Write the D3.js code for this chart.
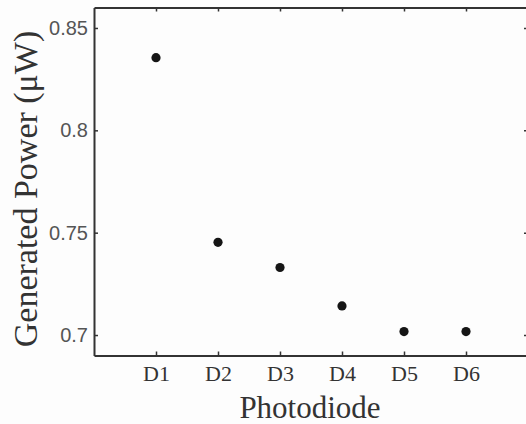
<!DOCTYPE html>
<html>
<head>
<meta charset="utf-8">
<script src="https://cdn.jsdelivr.net/npm/d3@7"></script>
<style>
  body { margin: 0; background: #fdfdfd; }
  svg { display: block; }
</style>
</head>
<body>
<script>
// chart data
const diodes = ['D1', 'D2', 'D3', 'D4', 'D5', 'D6']
const power = [0.8355, 0.7453, 0.7330, 0.7142, 0.7017, 0.7017]
const yTicks = [0.7, 0.75, 0.8, 0.85]

const w = 526
const h = 424

// x runs 0..7 so D1..D6 sit on 1..6, the right edge falls just outside the window
const x = d3.scaleLinear().domain([0, 7]).range([94, 528])
const y = d3.scaleLinear().domain([0.69, 0.86]).range([355.5, 7.5])

const svg = d3.select('body').append('svg')
  .attr('width', w)
  .attr('height', h)

svg.append('rect').attr('width', w).attr('height', h).attr('fill', '#fdfdfd')

const axisColor = '#333'
const pos = diodes.map((d, i) => i + 1)

// bottom axis with the category labels
const bottom = svg.append('g')
  .attr('transform', `translate(0,${y(0.69)})`)
  .call(d3.axisBottom(x).tickValues(pos).tickFormat(d => diodes[d - 1])
    .tickSizeInner(-4).tickSizeOuter(0).tickPadding(10))
bottom.selectAll('text')
  .attr('font-family', '"Liberation Serif", "Times New Roman", serif')
  .attr('font-size', 22)
  .attr('fill', '#333')
  .attr('dy', '0.71em')

// top edge, ticks only
svg.append('g')
  .attr('transform', `translate(0,${y(0.86)})`)
  .call(d3.axisTop(x).tickValues(pos).tickFormat('').tickSizeInner(-4).tickSizeOuter(0))

// left axis
const left = svg.append('g')
  .attr('transform', `translate(${x(0)},0)`)
  .call(d3.axisLeft(y).tickValues(yTicks).tickFormat(d => String(d))
    .tickSizeInner(-4).tickSizeOuter(0).tickPadding(6))
left.selectAll('text')
  .attr('font-family', '"Liberation Sans", Arial, sans-serif')
  .attr('font-size', 20)
  .attr('fill', '#555')

// right edge, ticks only
svg.append('g')
  .attr('transform', `translate(${x(7)},0)`)
  .call(d3.axisRight(y).tickValues(yTicks).tickFormat('').tickSizeInner(-4).tickSizeOuter(0))

svg.selectAll('.domain').attr('stroke', axisColor).attr('stroke-width', 2)
svg.selectAll('.tick line').attr('stroke', axisColor).attr('stroke-width', 1.5)

// the points
svg.selectAll('circle.dot')
  .data(power)
  .enter()
  .append('circle')
  .attr('class', 'dot')
  .attr('cx', (d, i) => x(i + 1))
  .attr('cy', d => y(d))
  .attr('r', 4.6)
  .attr('fill', '#151515')

// axis titles
svg.append('text')
  .attr('x', (x(0) + x(7)) / 2 - 1)
  .attr('y', 418)
  .attr('text-anchor', 'middle')
  .attr('font-family', '"Liberation Serif", "Times New Roman", serif')
  .attr('font-size', 31)
  .attr('fill', '#333')
  .text('Photodiode')

svg.append('text')
  .attr('transform', 'translate(37,189) rotate(-90)')
  .attr('text-anchor', 'middle')
  .attr('font-family', '"Liberation Serif", "Times New Roman", serif')
  .attr('font-size', 34)
  .attr('fill', '#333')
  .text('Generated Power (\u03bcW)')
</script>
</body>
</html>
